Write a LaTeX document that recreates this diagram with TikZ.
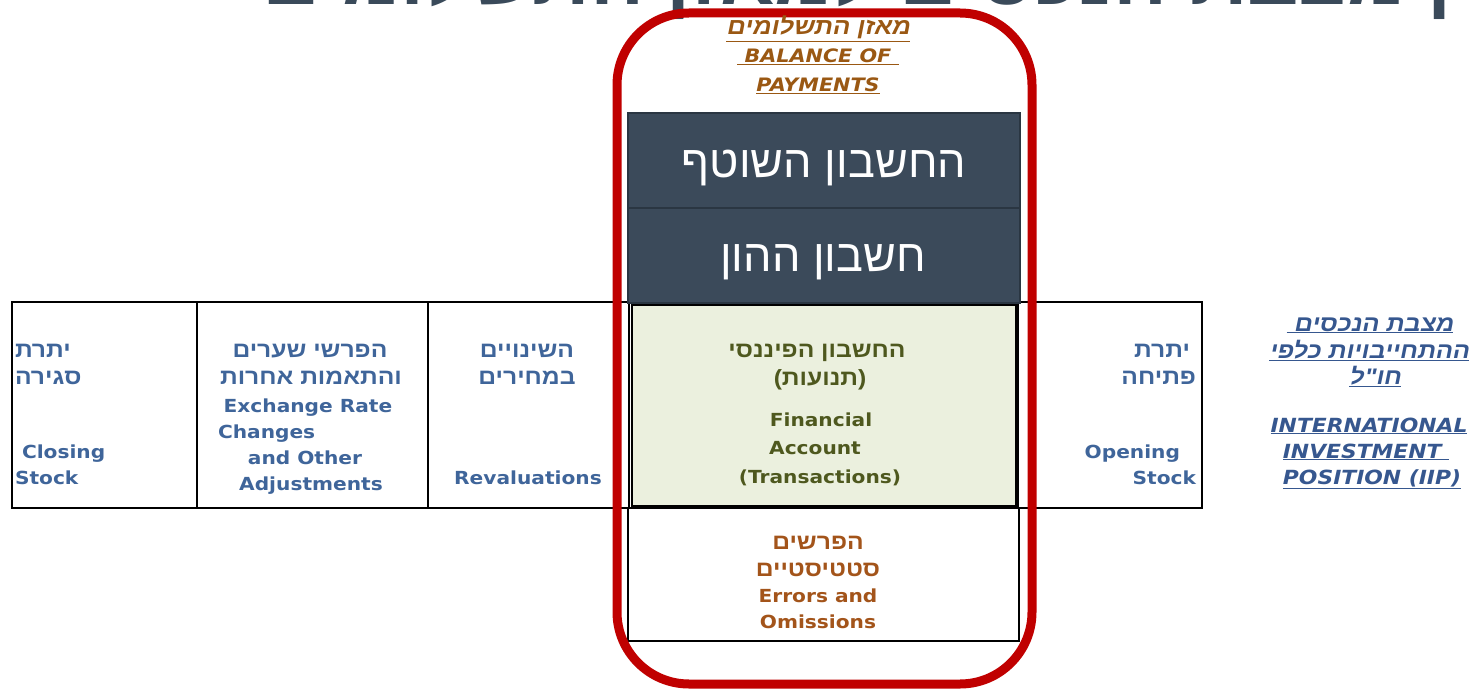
\documentclass[tikz,border=0pt]{standalone}
\usepackage{fontspec}
\TeXXeTstate=1
\setmainfont{DejaVu Sans}
\newfontfamily\enB{DejaVu Sans}[UprightFont={* Bold},FakeStretch=1.12]
\newfontfamily\enBI{DejaVu Sans}[UprightFont={* Bold Oblique},FakeStretch=1.12]
\newfontfamily\hebB{Liberation Sans}[Script=Hebrew,UprightFont={* Bold},FakeStretch=1.12]
\newfontfamily\hebBI{Liberation Sans}[Script=Hebrew,UprightFont={* Bold},FakeSlant=0.2,FakeStretch=1.12]
\newfontfamily\hebR{Liberation Sans}[Script=Hebrew]
\newfontfamily\hebT{Liberation Sans}[Script=Hebrew,UprightFont={* Bold}]
\newcommand{\RL}[1]{\beginR #1\endR}
\definecolor{darkbox}{HTML}{3B4A5A}
\definecolor{darkline}{HTML}{2A3642}
\definecolor{framered}{HTML}{C00000}
\definecolor{greenfill}{HTML}{EBF0DE}
\definecolor{coltext}{HTML}{3F659A}
\definecolor{olive}{HTML}{4E581E}
\definecolor{brown}{HTML}{A3541A}
\definecolor{bop}{HTML}{9A5813}
\definecolor{iip}{HTML}{36578F}
\definecolor{titlegrey}{HTML}{3A4A5A}
\tikzset{
  every node/.style={inner sep=0pt, outer sep=0pt},
  he/.style={font=\hebB\fontsize{22}{26}\selectfont, text=coltext},
  en/.style={font=\enB\fontsize{18}{22}\selectfont, text=coltext},
  gheb/.style={he, text=olive},
  gen/.style={en, text=olive},
  bheb/.style={he, text=brown},
  ben/.style={en, text=brown},
  iipheb/.style={font=\hebBI\fontsize{22.5}{26}\selectfont, text=iip},
  iipen/.style={font=\enBI\fontsize{19.5}{22}\selectfont, text=iip},
  bopheb/.style={font=\hebBI\fontsize{23}{26}\selectfont, text=bop},
  bopen/.style={font=\enBI\fontsize{18.5}{22}\selectfont, text=bop},
  darktext/.style={font=\hebR\fontsize{45}{50}\selectfont, text=white},
  tline/.style={draw=black, line width=2.5pt},
}
\begin{document}
\begin{tikzpicture}[x=1pt,y=-1pt]
\useasboundingbox (0,0) rectangle (1470,690);
\clip (0,0) rectangle (1470,690);
% cut-off title
\node[font=\hebT\fontsize{80}{90}\selectfont, text=titlegrey, anchor=base west] (title) at (262,5) {\RL{הקשר בין מצבת הנכסים למאזן התשלומים}};
% table
\draw[tline] (12,302) rectangle (1202,508);
\draw[tline] (197,302) -- (197,508);
\draw[tline] (428,302) -- (428,508);
\draw[tline] (629,302) -- (629,508);
\draw[tline] (1018,302) -- (1018,508);
% green financial account
\draw[fill=greenfill, draw=black, line width=2.5pt] (632,305) rectangle (1016,506);
% errors box
\draw[fill=white, draw=black, line width=2.5pt] (628,508) rectangle (1019,641);
% dark boxes
\node[draw=darkline, fill=darkbox, line width=2.5pt, minimum width=392pt, minimum height=95pt, anchor=north west] (cur) at (628,113) {};
\node[draw=darkline, fill=darkbox, line width=2.5pt, minimum width=392pt, minimum height=95pt, anchor=north west] (cap) at (628,208) {};
\node[darktext, anchor=base] (curt) at (824,177) {\RL{החשבון השוטף}};
\node[darktext, anchor=base] (capt) at (823,271) {\RL{חשבון ההון}};
% red frame
\draw[framered, line width=9pt, rounded corners=72pt] (617,13) rectangle (1032,684);
% BoP title
\node[bopheb, anchor=base] (bop1) at (818,35) {\underline{\RL{מאזן התשלומים}}};
\node[bopen, anchor=base] (bop2) at (818,63) {\underline{ BALANCE OF }};
\node[bopen, anchor=base] (bop3) at (818,92) {\underline{PAYMENTS}};
% column 1
\node[he, anchor=base west] (c1a) at (15,357) {\RL{יתרת}};
\node[he, anchor=base west] (c1b) at (15,384) {\RL{סגירה}};
\node[en, anchor=base west] (c1c) at (22,458) {Closing};
\node[en, anchor=base west] (c1d) at (15,484) {Stock};
% column 2
\node[he, anchor=base] (c2a) at (310,357) {\RL{הפרשי שערים}};
\node[he, anchor=base] (c2b) at (311,384) {\RL{והתאמות אחרות}};
\node[en, anchor=base] (c2c) at (308,412) {Exchange Rate};
\node[en, anchor=base west] (c2d) at (218,438) {Changes};
\node[en, anchor=base] (c2e) at (305,464) {and Other};
\node[en, anchor=base] (c2f) at (311,490) {Adjustments};
% column 3
\node[he, anchor=base] (c3a) at (527,357) {\RL{השינויים}};
\node[he, anchor=base] (c3b) at (527,384) {\RL{במחירים}};
\node[en, anchor=base] (c3c) at (528,484) {Revaluations};
% financial account
\node[gheb, anchor=base] (fa1) at (817,357) {\RL{החשבון הפיננסי}};
\node[gheb, anchor=base] (fa2) at (820,385) {\RL{(תנועות)}};
\node[gen, anchor=base] (fa3) at (821,426) {Financial};
\node[gen, anchor=base] (fa4) at (815,454) {Account};
\node[gen, anchor=base] (fa5) at (820,483) {(Transactions)};
% errors and omissions
\node[bheb, anchor=base] (eo1) at (818,549) {\RL{הפרשים}};
\node[bheb, anchor=base] (eo2) at (818,576) {\RL{סטטיסטיים}};
\node[ben, anchor=base] (eo3) at (818,602) {Errors and};
\node[ben, anchor=base] (eo4) at (818,628) {Omissions};
% column 5
\node[he, anchor=base east] (c5a) at (1190,357) {\RL{יתרת}};
\node[he, anchor=base east] (c5b) at (1196,384) {\RL{פתיחה}};
\node[en, anchor=base east] (c5c) at (1180,458) {Opening};
\node[en, anchor=base east] (c5d) at (1196,484) {Stock};
% IIP label
\node[iipheb, anchor=base] (iip1) at (1370,331) {\underline{\RL{מצבת הנכסים }}};
\node[iipheb, anchor=base] (iip2) at (1369,358) {\underline{\RL{ההתחייבויות כלפי}}};
\node[iipheb, anchor=base] (iip3) at (1375,384) {\underline{\RL{חו"ל}}};
\node[iipen, anchor=base] (iip4) at (1369,432) {\underline{INTERNATIONAL}};
\node[iipen, anchor=base] (iip5) at (1366,458) {\underline{INVESTMENT }};
\node[iipen, anchor=base] (iip6) at (1372,484) {\underline{POSITION (IIP)}};
\end{tikzpicture}
\end{document}
